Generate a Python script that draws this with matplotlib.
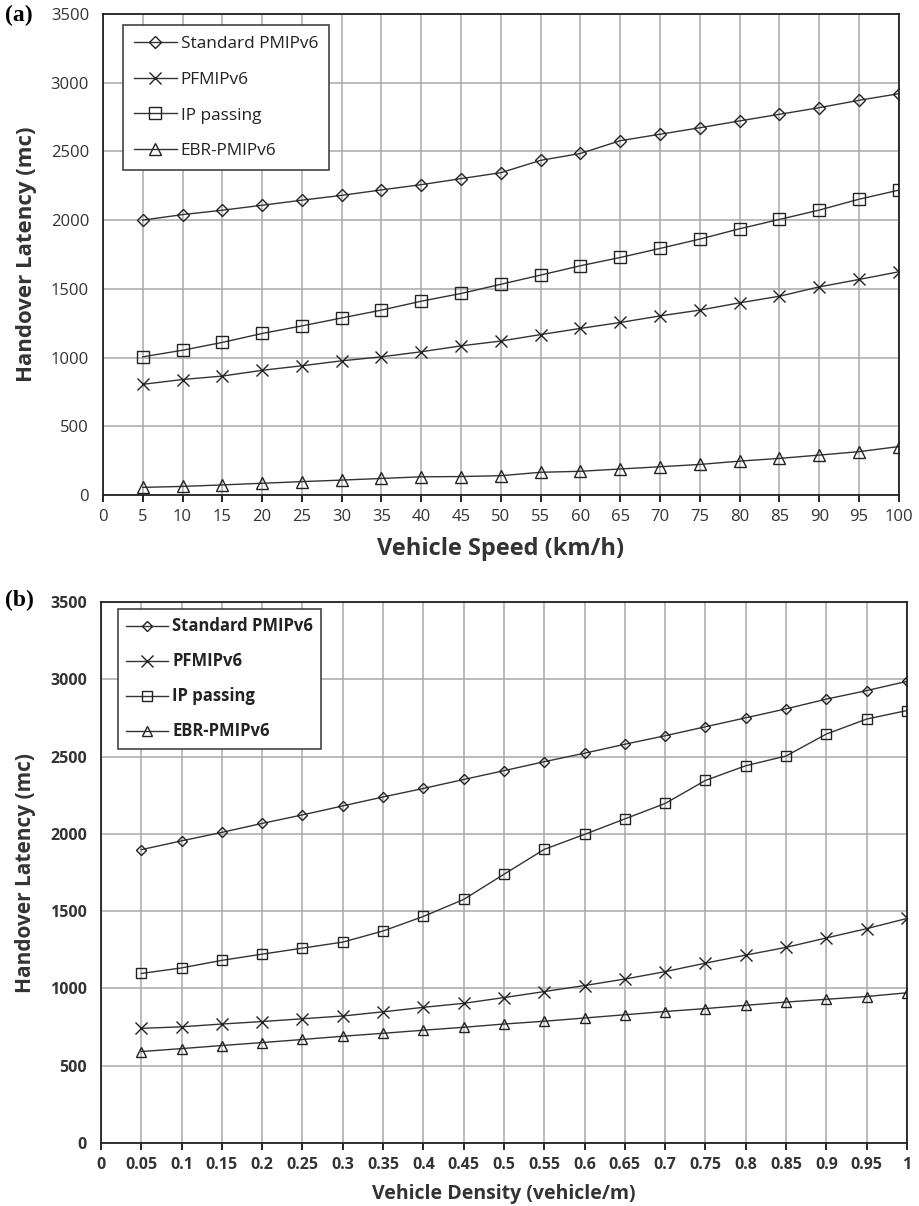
import numpy as np
import matplotlib
matplotlib.use("Agg")
import matplotlib.pyplot as plt

# data
speed = [5, 10, 15, 20, 25, 30, 35, 40, 45, 50, 55, 60, 65, 70, 75, 80, 85, 90, 95, 100]
std_a = [2000, 2040, 2072, 2108, 2145, 2180, 2220, 2258, 2302, 2345, 2435, 2485, 2578, 2625, 2672, 2722, 2770, 2818, 2872, 2920]
pfm_a = [805, 840, 865, 907, 940, 976, 1005, 1042, 1085, 1120, 1167, 1212, 1255, 1303, 1345, 1398, 1446, 1514, 1568, 1624]
ipp_a = [1005, 1053, 1110, 1175, 1230, 1288, 1345, 1410, 1466, 1533, 1600, 1668, 1728, 1794, 1862, 1937, 2005, 2073, 2152, 2218]
ebr_a = [55, 62, 73, 85, 97, 108, 120, 132, 134, 140, 165, 172, 189, 205, 222, 246, 266, 290, 315, 352]

density = [0.05, 0.1, 0.15, 0.2, 0.25, 0.3, 0.35, 0.4, 0.45, 0.5, 0.55, 0.6, 0.65, 0.7, 0.75, 0.8, 0.85, 0.9, 0.95, 1.0]
std_b = [1898, 1955, 2010, 2068, 2123, 2181, 2239, 2294, 2352, 2409, 2467, 2522, 2580, 2635, 2693, 2751, 2809, 2872, 2927, 2987]
pfm_b = [742, 752, 770, 786, 804, 822, 849, 878, 904, 941, 980, 1019, 1061, 1109, 1164, 1216, 1266, 1327, 1387, 1453]
ipp_b = [1097, 1133, 1182, 1222, 1261, 1300, 1372, 1466, 1576, 1739, 1900, 1997, 2097, 2197, 2346, 2441, 2504, 2646, 2743, 2798]
ebr_b = [592, 611, 631, 650, 670, 691, 710, 730, 749, 770, 788, 809, 830, 851, 870, 891, 912, 930, 948, 972]

names = ["Standard PMIPv6", "PFMIPv6", "IP passing", "EBR-PMIPv6"]
marks = ["D", "x", "s", "^"]

xt_a = list(range(0, 105, 5))
xt_b = ["0", "0.05", "0.1", "0.15", "0.2", "0.25", "0.3", "0.35", "0.4", "0.45", "0.5",
        "0.55", "0.6", "0.65", "0.7", "0.75", "0.8", "0.85", "0.9", "0.95", "1"]

fig = plt.figure(figsize=(9.19, 12.06), dpi=100)


def draw(ax, x, series, sizes, weight, tsize, lsize, anchor, spacing, bpad):
    for ys, m, ms, nm in zip(series, marks, sizes, names):
        ax.plot(x, ys, color="#333333", lw=1.0, marker=m, ms=ms,
                mfc="none", mec="#222222", mew=1.0, label=nm)
    ax.set_ylim(0, 3500)
    ax.set_yticks(range(0, 3501, 500))
    ax.grid(True, color="#a8a8a8", lw=1.1)
    ax.set_axisbelow(True)
    for s in ax.spines.values():
        s.set_color("#222222")
        s.set_linewidth(1.3)
    ax.tick_params(axis="y", length=0, pad=10)
    ax.tick_params(axis="x", length=5, width=1.2, direction="out", pad=5)
    for t in ax.get_yticklabels():
        t.set_fontfamily("Open Sans")
        t.set_fontsize(tsize)
        t.set_fontweight(weight)
        t.set_color("#333333")
    leg = ax.legend(loc="upper left", bbox_to_anchor=anchor, borderaxespad=0,
                    fancybox=False, edgecolor="#333333", framealpha=1,
                    handlelength=2.5, labelspacing=spacing, borderpad=bpad,
                    handletextpad=0.25,
                    prop={"family": "Open Sans", "size": lsize, "weight": weight})
    leg.get_frame().set_linewidth(1.1)
    for t in leg.get_texts():
        t.set_color("#222222")
    return ax


ax1 = fig.add_axes([0.112, 0.5896, 0.866, 0.3988])
draw(ax1, speed, [std_a, pfm_a, ipp_a, ebr_a], [6.5, 9, 9, 8], "normal", 12, 12.4,
     (0.025, 0.977), 1.15, 0.62)
ax1.set_xlim(0, 100)
ax1.set_xticks(xt_a)
ax1.set_xticklabels([str(v) for v in xt_a], fontfamily="Open Sans", fontsize=12, color="#333333")
ax1.set_xlabel("Vehicle Speed (km/h)", fontfamily="Open Sans", fontsize=17, fontweight="bold",
               color="#333333", labelpad=9)
ax1.set_ylabel("Handover Latency (mc)", fontfamily="Open Sans", fontsize=16, fontweight="bold",
               color="#333333", labelpad=10)
fig.text(0.005, 0.987, "(a)", fontfamily="Liberation Serif", fontsize=17, fontweight="bold",
         va="center", ha="left")

ax2 = fig.add_axes([0.1099, 0.0522, 0.877, 0.4486])
draw(ax2, density, [std_b, pfm_b, ipp_b, ebr_b], [5.5, 8, 7.5, 7], "bold", 11.5, 12,
     (0.021, 0.987), 1.02, 0.5)
ax2.set_xlim(0, 1)
ax2.set_xticks([i * 0.05 for i in range(21)])
ax2.set_xticklabels(xt_b, fontfamily="Open Sans", fontsize=11.5, fontweight="bold", color="#333333")
ax2.set_xlabel("Vehicle Density (vehicle/m)", fontfamily="Open Sans", fontsize=14,
               fontweight="bold", color="#333333", labelpad=8)
ax2.set_ylabel("Handover Latency (mc)", fontfamily="Open Sans", fontsize=15, fontweight="bold",
               color="#333333", labelpad=10)
fig.text(0.005, 0.5025, "(b)", fontfamily="Liberation Serif", fontsize=17, fontweight="bold",
         va="center", ha="left")

fig.savefig("out.png", dpi=100, facecolor="white")
